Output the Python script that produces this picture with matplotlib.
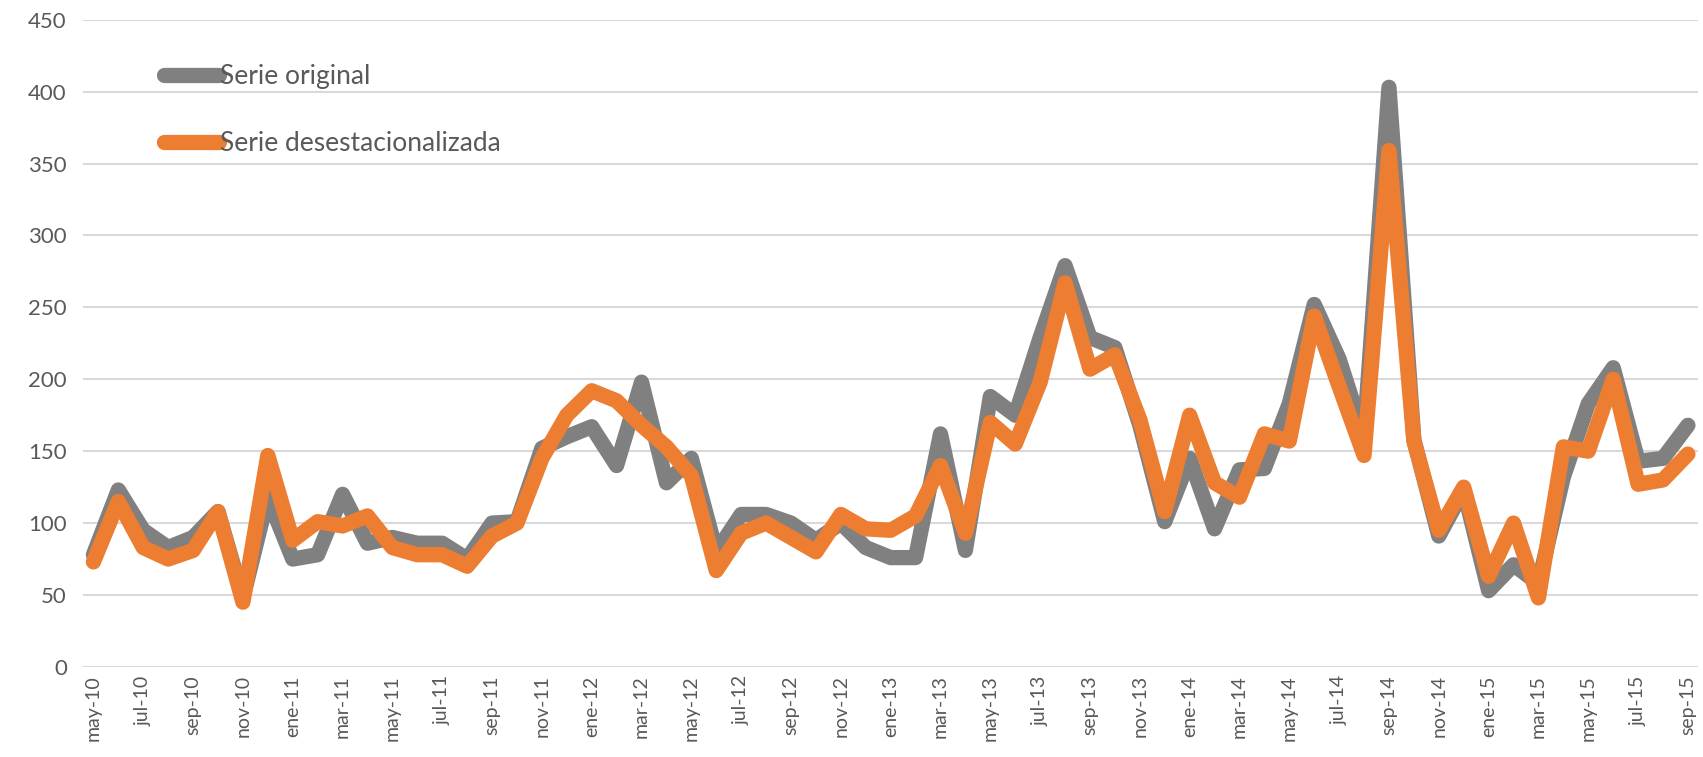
import matplotlib
matplotlib.use("Agg")
import matplotlib.pyplot as plt

months = [
    "may-10", "jun-10", "jul-10", "ago-10", "sep-10", "oct-10", "nov-10", "dic-10",
    "ene-11", "feb-11", "mar-11", "abr-11", "may-11", "jun-11", "jul-11", "ago-11",
    "sep-11", "oct-11", "nov-11", "dic-11",
    "ene-12", "feb-12", "mar-12", "abr-12", "may-12", "jun-12", "jul-12", "ago-12",
    "sep-12", "oct-12", "nov-12", "dic-12",
    "ene-13", "feb-13", "mar-13", "abr-13", "may-13", "jun-13", "jul-13", "ago-13",
    "sep-13", "oct-13", "nov-13", "dic-13",
    "ene-14", "feb-14", "mar-14", "abr-14", "may-14", "jun-14", "jul-14", "ago-14",
    "sep-14", "oct-14", "nov-14", "dic-14",
    "ene-15", "feb-15", "mar-15", "abr-15", "may-15", "jun-15", "jul-15", "ago-15",
    "sep-15",
]

serie_original = [
    78, 123, 95, 83, 90, 108, 48, 118,
    75, 78, 120, 86, 90, 86, 86, 75, 100, 101, 152, 160,
    167, 140, 198, 128, 145, 80, 106, 106, 100, 88, 100, 83,
    76, 76, 162, 81, 188, 175, 229, 279, 229, 222, 168, 101,
    145, 96, 137, 138, 183, 252, 214, 160, 403, 158, 91, 123,
    53, 71, 58, 132, 183, 208, 143, 145, 168,
]

serie_desest = [
    73, 115, 83, 75, 81, 108, 45, 147,
    88, 101, 98, 105, 83, 78, 78, 70, 91, 100, 145, 175,
    192, 185, 168, 153, 133, 67, 93, 100, 90, 80, 106, 96,
    95, 105, 140, 93, 170, 155, 198, 267, 207, 217, 172, 108,
    175, 128, 118, 162, 157, 244, 195, 147, 359, 157, 95, 125,
    63, 100, 48, 153, 150, 200, 127, 130, 148,
]

y_ticks = [0, 50, 100, 150, 200, 250, 300, 350, 400, 450]

TEXT = "#595959"
plt.rcParams["font.family"] = ["Lato", "DejaVu Sans"]

fig = plt.figure(figsize=(17.03, 7.57), dpi=100)
ax = fig.add_axes([0.049, 0.119, 0.948, 0.855])

x = list(range(len(months)))
ax.plot(x, serie_original, color="#808080", lw=11, solid_joinstyle="round",
        solid_capstyle="round", label="Serie original", zorder=3)
ax.plot(x, serie_desest, color="#ED7D31", lw=11, solid_joinstyle="round",
        solid_capstyle="round", label="Serie desestacionalizada", zorder=4)

ax.set_xlim(-0.4, len(months) - 0.6)
ax.set_ylim(0, 450)
ax.set_yticks(y_ticks)
ax.set_yticklabels([str(v) for v in y_ticks], fontsize=16, color=TEXT)
ax.set_xticks(x[::2])
ax.set_xticklabels(months[::2], rotation=90, fontsize=14, color=TEXT)
ax.tick_params(axis="both", length=0)
ax.tick_params(axis="y", pad=12)
ax.tick_params(axis="x", pad=6)

ax.grid(axis="y", color="#D9D9D9", lw=1.5)
ax.set_axisbelow(True)
for s in ax.spines.values():
    s.set_visible(False)

leg = ax.legend(loc="upper left", bbox_to_anchor=(0.035, 0.968), frameon=False,
                fontsize=19, handlelength=2.1, handletextpad=0.05, labelspacing=1.6)
for t in leg.get_texts():
    t.set_color(TEXT)

fig.savefig("out.png", dpi=100)
